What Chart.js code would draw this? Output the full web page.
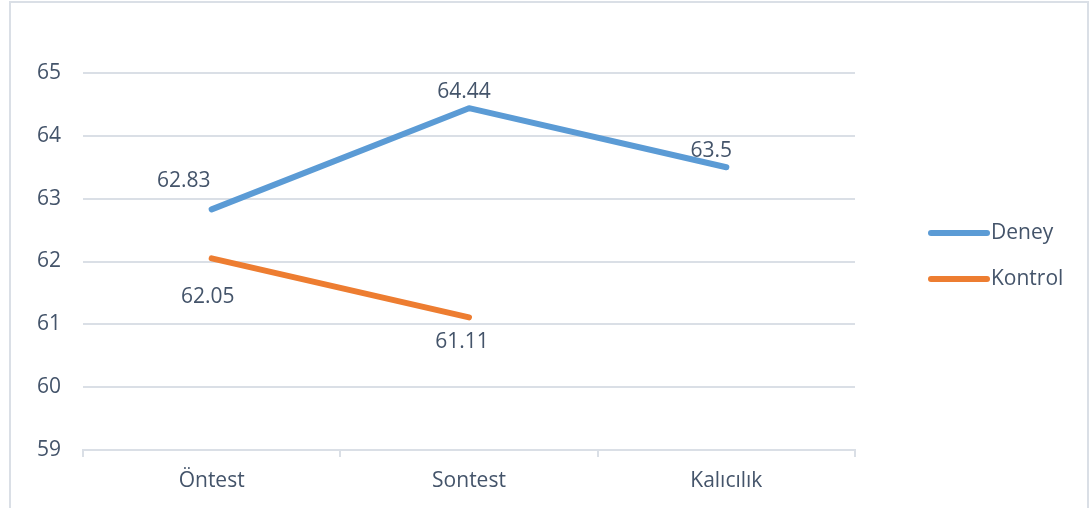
<!DOCTYPE html>
<html>
<head>
<meta charset="utf-8">
<script src="https://cdn.jsdelivr.net/npm/chart.js@4/dist/chart.umd.min.js"></script>
<style>
  html, body { margin: 0; padding: 0; background: #fff; }
  #wrap { position: relative; width: 1090px; height: 508px; }
</style>
</head>
<body>
<div id="wrap"><canvas id="chart" width="1090" height="508"></canvas></div>
<script>
const categories = ['Öntest', 'Sontest', 'Kalıcılık'];
const deney = [62.83, 64.44, 63.5];
const kontrol = [62.05, 61.11, null];
const seriesNames = ['Deney', 'Kontrol'];

const TEXT = '#44546a';
const GRID = '#dadfe6';
const FONT = "'Open Sans', sans-serif";
const FSIZE = 21;

// value labels next to each point (Excel-style placement)
const valueLabels = {
  id: 'valueLabels',
  afterDatasetsDraw(chart, args, opts) {
    const ctx = chart.ctx;
    ctx.save();
    ctx.font = `${FSIZE}px ${FONT}`;
    ctx.fillStyle = TEXT;
    ctx.textAlign = 'center';
    ctx.textBaseline = 'middle';
    chart.data.datasets.forEach((ds, i) => {
      const meta = chart.getDatasetMeta(i);
      meta.data.forEach((pt, j) => {
        const v = ds.data[j];
        if (v == null) return;
        const off = opts.offsets[i][j];
        ctx.fillText(String(v), pt.x + off[0], pt.y + off[1]);
      });
    });
    ctx.restore();
  }
};

// legend on the right, line swatches
const sideLegend = {
  id: 'sideLegend',
  afterDraw(chart, args, opts) {
    const ctx = chart.ctx;
    ctx.save();
    ctx.font = `${FSIZE}px ${FONT}`;
    ctx.textBaseline = 'middle';
    chart.data.datasets.forEach((ds, i) => {
      const y = opts.y + i * opts.gap;
      ctx.strokeStyle = ds.borderColor;
      ctx.lineWidth = 6;
      ctx.lineCap = 'round';
      ctx.beginPath();
      ctx.moveTo(opts.x, y);
      ctx.lineTo(opts.x + opts.len, y);
      ctx.stroke();
      ctx.fillStyle = TEXT;
      ctx.fillText(ds.label, opts.x + opts.len + 4, y);
    });
    ctx.restore();
  }
};

const frame = {
  id: 'frame',
  beforeDraw(chart) {
    const ctx = chart.ctx;
    ctx.save();
    ctx.strokeStyle = '#dadfe6';
    ctx.lineWidth = 2;
    ctx.strokeRect(10, 2, 1078, 520);
    ctx.restore();
  }
};

new Chart(document.getElementById('chart').getContext('2d'), {
  type: 'line',
  data: {
    labels: categories,
    datasets: [
      {
        label: seriesNames[0],
        data: deney,
        borderColor: '#5b9bd5',
        backgroundColor: '#5b9bd5',
        borderWidth: 6,
        borderCapStyle: 'round',
        borderJoinStyle: 'round',
        pointRadius: 0,
        tension: 0,
      },
      {
        label: seriesNames[1],
        data: kontrol,
        borderColor: '#ed7d31',
        backgroundColor: '#ed7d31',
        borderWidth: 6,
        borderCapStyle: 'round',
        borderJoinStyle: 'round',
        pointRadius: 0,
        tension: 0,
      }
    ]
  },
  options: {
    responsive: false,
    animation: false,
    layout: { padding: { left: 0, right: 235, top: 73, bottom: 0 } },
    plugins: {
      legend: { display: false },
      tooltip: { enabled: false },
      valueLabels: {
        offsets: [
          [[-28, -28], [-5, -16], [-15, -16]],
          [[-4, 39], [-7, 25], [0, 0]]
        ]
      },
      sideLegend: { x: 931, y: 233, gap: 46, len: 56 },
    },
    scales: {
      x: {
        offset: true,
        grid: {
          offset: true,
          drawOnChartArea: false,
          drawTicks: true,
          tickLength: 7,
          color: GRID,
          lineWidth: 2,
        },
        border: { display: true, color: GRID, width: 2 },
        ticks: { color: TEXT, font: { family: FONT, size: FSIZE }, padding: 11 },
        afterFit: (s) => { s.height = 58; },
      },
      y: {
        min: 59,
        max: 65,
        ticks: { stepSize: 1, color: TEXT, font: { family: FONT, size: FSIZE }, padding: 22 },
        grid: { color: GRID, lineWidth: 2, drawTicks: false },
        border: { display: false },
        afterFit: (s) => { s.width = 83; },
      }
    }
  },
  plugins: [frame, valueLabels, sideLegend]
});
</script>
</body>
</html>
